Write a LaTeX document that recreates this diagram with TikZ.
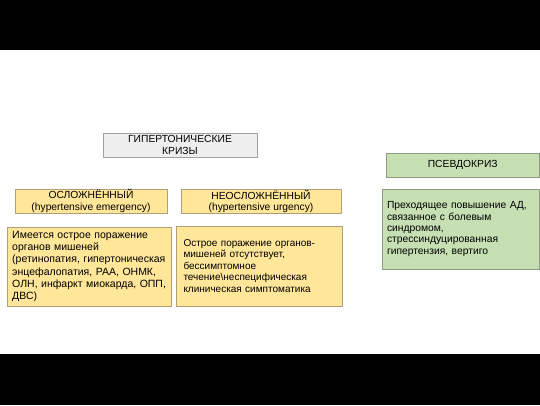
\documentclass[tikz,border=0pt]{standalone}
\usepackage{fontspec}
\setmainfont{Liberation Sans}
\usetikzlibrary{positioning}

\definecolor{barblack}{HTML}{000000}
\definecolor{grayfill}{HTML}{EEEEEE}
\definecolor{grayline}{HTML}{A0A0A0}
\definecolor{yelfill}{HTML}{FFE699}
\definecolor{yelline}{HTML}{B0A07A}
\definecolor{grnfill}{HTML}{C6E0B4}
\definecolor{grnline}{HTML}{8E9C84}

\tikzset{
    headbox/.style={font=\fontsize{10.3}{11.4}\selectfont, draw=#1line, fill=#1fill,
        line width=0.8pt, align=center, inner sep=0pt, minimum height=24pt},
    textbox/.style={draw=#1line, fill=#1fill, line width=0.8pt,
        align=left, inner ysep=0pt}
}

\begin{document}
\begin{tikzpicture}[x=1pt, y=-1pt]
    \useasboundingbox (0,0) rectangle (540,405);

    % Black bars
    \fill[barblack] (0,0) rectangle (540,50);
    \fill[barblack] (0,354) rectangle (540,405);

    % Title
    \node[headbox=gray, minimum width=154pt] (crises) at (180,145)
        {ГИПЕРТОНИЧЕСКИЕ\\КРИЗЫ};

    % Complicated
    \node[headbox=yel, minimum width=152pt] (compl) at (91,201)
        {ОСЛОЖНЁННЫЙ\\(hypertensive emergency)};
    \node[textbox=yel, font=\fontsize{10.5}{12.3}\selectfont, text width=154.5pt,
        inner xsep=5pt, minimum height=79pt] (compltext) at (89.5,266.5)
        {Имеется острое поражение\\органов мишеней\\(ретинопатия, гипертоническая\\энцефалопатия, РАА, ОНМК,\\ОЛН, инфаркт миокарда, ОПП,\\ДВС)};

    % Uncomplicated
    \node[headbox=yel, minimum width=160pt] (uncompl) at (261,201.5)
        {НЕОСЛОЖНЁННЫЙ\\(hypertensive urgency)};
    \node[textbox=yel, font=\fontsize{10}{11.5}\selectfont, text width=152pt,
        inner xsep=7pt, minimum height=80pt] (uncompltext) at (259.5,266)
        {Острое поражение органов-\\мишеней отсутствует,\\бессимптомное\\течение\textbackslash неспецифическая\\клиническая симптоматика};

    % Pseudocrisis
    \node[headbox=grn, minimum width=153.5pt] (pseudo) at (462.75,165)
        {ПСЕВДОКРИЗ};
    \node[textbox=grn, font=\fontsize{10.3}{11.3}\selectfont, text width=147.5pt,
        inner xsep=5pt, minimum height=80pt] (pseudotext) at (460.75,229)
        {Преходящее повышение АД,\\связанное с болевым\\синдромом,\\стрессиндуцированная\\гипертензия, вертиго};
\end{tikzpicture}
\end{document}
